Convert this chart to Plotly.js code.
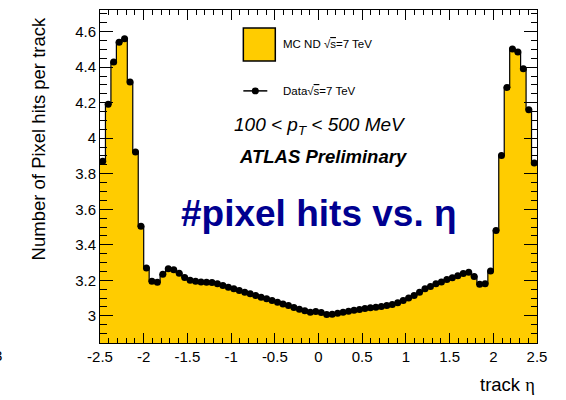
<!DOCTYPE html>
<html>
<head>
<meta charset="utf-8">
<script src="https://cdn.plot.ly/plotly-3.0.1.min.js"></script>
<style>
  html, body { margin: 0; padding: 0; background: #ffffff; }
  #chart { width: 566px; height: 400px; }
</style>
</head>
<body>
<div id="chart"></div>
<script>
// Histogram binning in track pseudorapidity
const etaMin = -2.5;
const etaMax = 2.5;
const nBins = 80;

// Mean number of pixel hits per track, simulation (MC ND, sqrt(s) = 7 TeV)
const mcHits = [
  3.870, 4.192, 4.429, 4.541, 4.560, 4.316, 3.922, 3.504, 3.270, 3.195,
  3.189, 3.234, 3.265, 3.260, 3.240, 3.216, 3.201, 3.194, 3.190, 3.189,
  3.187, 3.181, 3.171, 3.161, 3.152, 3.142, 3.133, 3.124, 3.114, 3.105,
  3.096, 3.086, 3.077, 3.067, 3.058, 3.047, 3.037, 3.029, 3.020, 3.024,
  3.019, 3.008, 3.009, 3.015, 3.020, 3.026, 3.032, 3.035, 3.041, 3.045,
  3.048, 3.052, 3.058, 3.064, 3.073, 3.086, 3.101, 3.114, 3.133, 3.152,
  3.165, 3.180, 3.191, 3.204, 3.215, 3.225, 3.238, 3.245, 3.222, 3.178,
  3.180, 3.252, 3.480, 3.903, 4.286, 4.503, 4.485, 4.391, 4.160, 3.861
];

// Mean number of pixel hits per track, collision data (sqrt(s) = 7 TeV)
const dataHits = [
  3.870, 4.192, 4.429, 4.541, 4.560, 4.316, 3.922, 3.504, 3.270, 3.195,
  3.189, 3.234, 3.265, 3.260, 3.240, 3.216, 3.201, 3.194, 3.190, 3.189,
  3.187, 3.181, 3.171, 3.161, 3.152, 3.142, 3.133, 3.124, 3.114, 3.105,
  3.096, 3.086, 3.077, 3.067, 3.058, 3.047, 3.037, 3.029, 3.020, 3.024,
  3.019, 3.008, 3.009, 3.015, 3.020, 3.026, 3.032, 3.035, 3.041, 3.045,
  3.048, 3.052, 3.058, 3.064, 3.073, 3.086, 3.101, 3.114, 3.133, 3.152,
  3.165, 3.180, 3.191, 3.204, 3.215, 3.225, 3.238, 3.245, 3.222, 3.178,
  3.180, 3.252, 3.480, 3.903, 4.286, 4.503, 4.485, 4.391, 4.160, 3.861
];

// Axis tick labels
const xTickVals = [-2.5, -2, -1.5, -1, -0.5, 0, 0.5, 1, 1.5, 2, 2.5];
const xTickText = ['-2.5', '-2', '-1.5', '-1', '-0.5', '0', '0.5', '1', '1.5', '2', '2.5'];
const yTickVals = [3, 3.2, 3.4, 3.6, 3.8, 4, 4.2, 4.4, 4.6];
const yTickText = ['3', '3.2', '3.4', '3.6', '3.8', '4', '4.2', '4.4', '4.6'];

// Bin edges and centres
const binWidth = (etaMax - etaMin) / nBins;
const binEdges = Array.from({length: nBins + 1}, (_, i) => etaMin + i * binWidth);
const binCentres = Array.from({length: nBins}, (_, i) => etaMin + (i + 0.5) * binWidth);

// Frame geometry in page pixels
const W = 566, H = 400;
const frameL = 99.5, frameR = 537, frameT = 10, frameB = 343.5;
const px = x => (x - frameL) / (frameR - frameL);
const py = y => (frameB - y) / (frameB - frameT);

const FONT = 'Liberation Sans, Arial, Helvetica, sans-serif';
const SERIF = 'Liberation Serif, Times New Roman, serif';
const MC_YELLOW = '#ffcc00';
const SQRT_S = '√<span style="text-decoration:overline">s</span>';

// MC histogram: filled step outline over the full bin edges
const mcTrace = {
  type: 'scatter',
  mode: 'lines',
  x: binEdges,
  y: mcHits.concat([mcHits[mcHits.length - 1]]),
  line: {shape: 'hv', color: '#000000', width: 1.2},
  fill: 'tozeroy',
  fillcolor: MC_YELLOW,
  hoverinfo: 'skip',
  showlegend: false
};

// Data points at bin centres
const dataTrace = {
  type: 'scatter',
  mode: 'markers',
  x: binCentres,
  y: dataHits,
  marker: {symbol: 'circle', size: 7, color: '#000000'},
  showlegend: false
};

const minorTick = (dtick, len) => ({
  dtick: dtick, ticks: 'inside', ticklen: len, tickwidth: 1, tickcolor: '#000000', showgrid: false
});

const layout = {
  width: W,
  height: H,
  margin: {l: frameL, r: W - frameR, t: frameT, b: H - frameB, pad: 0},
  paper_bgcolor: '#ffffff',
  plot_bgcolor: '#ffffff',
  showlegend: false,
  font: {family: FONT, color: '#000000'},
  xaxis: {
    range: [etaMin, etaMax],
    tickmode: 'array',
    tickvals: xTickVals,
    ticktext: xTickText,
    ticks: 'inside',
    ticklen: 10,
    tickwidth: 1,
    tickcolor: '#000000',
    minor: minorTick(0.1, 5),
    showline: true,
    linecolor: '#000000',
    linewidth: 1,
    mirror: 'ticks',
    showgrid: false,
    zeroline: false,
    tickfont: {family: FONT, size: 15, color: '#000000'}
  },
  yaxis: {
    range: [2.847, 4.722],
    tickmode: 'array',
    tickvals: yTickVals,
    ticktext: yTickText,
    ticks: 'inside',
    ticklen: 13,
    tickwidth: 1,
    tickcolor: '#000000',
    minor: minorTick(0.05, 6.5),
    showline: true,
    linecolor: '#000000',
    linewidth: 1,
    mirror: 'ticks',
    showgrid: false,
    zeroline: false,
    tickfont: {family: FONT, size: 15, color: '#000000'}
  },
  shapes: [
    // legend: MC box
    {type: 'rect', xref: 'paper', yref: 'paper',
     x0: px(243), x1: px(275), y0: py(61), y1: py(28),
     fillcolor: MC_YELLOW, line: {color: '#000000', width: 1.5}},
    // legend: data line and marker
    {type: 'line', xref: 'paper', yref: 'paper',
     x0: px(243), x1: px(267), y0: py(91), y1: py(91),
     line: {color: '#000000', width: 1.5}},
    {type: 'circle', xref: 'paper', yref: 'paper',
     x0: px(251.5), x1: px(258.5), y0: py(94.5), y1: py(87.5),
     fillcolor: '#000000', line: {color: '#000000', width: 0}}
  ],
  annotations: [
    {xref: 'paper', yref: 'paper', x: px(38), y: py(139), textangle: -90,
     xanchor: 'center', yanchor: 'middle', showarrow: false,
     text: 'Number of Pixel hits per track', font: {family: FONT, size: 18.5, color: '#000000'}},
    {xref: 'paper', yref: 'paper', x: 1, y: py(385),
     xanchor: 'right', yanchor: 'middle', showarrow: false,
     text: 'track <span style="font-family:' + SERIF + '">η</span>',
     font: {family: FONT, size: 18.5, color: '#000000'}},
    {xref: 'paper', yref: 'paper', x: px(3), y: py(356),
     xanchor: 'right', yanchor: 'middle', showarrow: false,
     text: '3', font: {family: FONT, size: 15, color: '#000000'}},
    {xref: 'paper', yref: 'paper', x: px(281), y: py(44),
     xanchor: 'left', yanchor: 'middle', showarrow: false,
     text: 'MC ND ' + SQRT_S + '=7 TeV', font: {family: FONT, size: 11.5, color: '#000000'}},
    {xref: 'paper', yref: 'paper', x: px(281), y: py(91),
     xanchor: 'left', yanchor: 'middle', showarrow: false,
     text: 'Data' + SQRT_S + '=7 TeV', font: {family: FONT, size: 11.5, color: '#000000'}},
    {xref: 'paper', yref: 'paper', x: px(320), y: py(126),
     xanchor: 'center', yanchor: 'middle', showarrow: false,
     text: '<i>100 &lt; p<sub>T</sub> &lt; 500 MeV</i>', font: {family: FONT, size: 19, color: '#000000'}},
    {xref: 'paper', yref: 'paper', x: px(323), y: py(157),
     xanchor: 'center', yanchor: 'middle', showarrow: false,
     text: '<b><i>ATLAS Preliminary</i></b>', font: {family: FONT, size: 18.5, color: '#000000'}},
    {xref: 'paper', yref: 'paper', x: px(319), y: py(214),
     xanchor: 'center', yanchor: 'middle', showarrow: false,
     text: '<b>#pixel hits vs. η</b>', font: {family: FONT, size: 37, color: '#000090'}}
  ]
};

Plotly.newPlot('chart', [mcTrace, dataTrace], layout, {staticPlot: true, displayModeBar: false});
</script>
</body>
</html>
